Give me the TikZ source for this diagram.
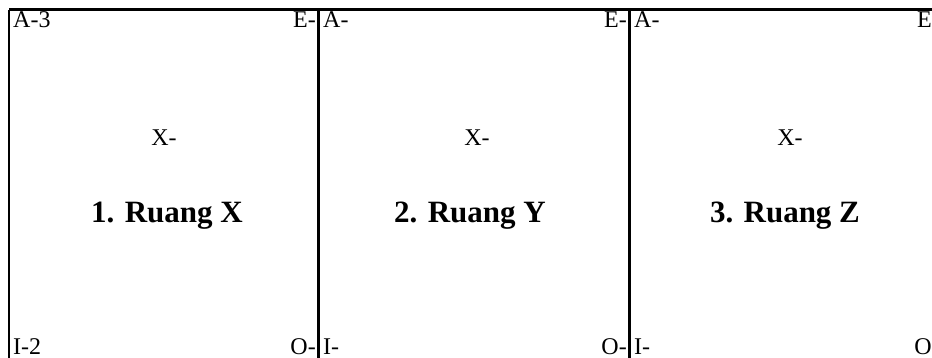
\documentclass[tikz,border=0pt]{standalone}
\usepackage{fontspec}
\setmainfont{Liberation Serif}
\begin{document}
\begin{tikzpicture}[x=1pt,y=-1pt,
  lbl/.style={font=\fontsize{24}{26}\selectfont, inner sep=0pt},
  ttl/.style={font=\fontsize{31}{34}\selectfont\bfseries, inner sep=0pt},
  thinline/.style={line width=2pt},
  thickline/.style={line width=3.5pt}]
\useasboundingbox (0,0) rectangle (932,358);
% frame lines
\coordinate (tl) at (9,10);
\coordinate (tr) at (960,10);
\coordinate (d1t) at (318.5,10);
\coordinate (d2t) at (629.5,10);
\coordinate (d3t) at (940,10);
\draw[line width=3pt] (tl) -- (tr);
\draw[thinline] (tl) -- (9,380);
\draw[thickline] (d1t) -- (318.5,380);
\draw[thickline] (d2t) -- (629.5,380);
\draw[thickline] (d3t) -- (940,380);
% panel 1
\node[lbl, anchor=base west] (a1) at (13,28) {A-3};
\node[lbl, anchor=base east] (e1) at (316,28) {E-};
\node[lbl, anchor=base west] (i1) at (13,354) {I-2};
\node[lbl, anchor=base east] (o1) at (316,354) {O-};
\node[lbl] (x1) at (164,138) {X-};
\node[ttl] (r1) at (167,216) {1. Ruang X};
% panel 2
\node[lbl, anchor=base west] (a2) at (323,28) {A-};
\node[lbl, anchor=base east] (e2) at (627,28) {E-};
\node[lbl, anchor=base west] (i2) at (323,354) {I-};
\node[lbl, anchor=base east] (o2) at (627,354) {O-};
\node[lbl] (x2) at (477,138) {X-};
\node[ttl] (r2) at (470,216) {2. Ruang Y};
% panel 3
\node[lbl, anchor=base west] (a3) at (634,28) {A-};
\node[lbl, anchor=base east] (e3) at (940,28) {E-};
\node[lbl, anchor=base west] (i3) at (634,354) {I-};
\node[lbl, anchor=base east] (o3) at (940,354) {O-};
\node[lbl] (x3) at (790,138) {X-};
\node[ttl] (r3) at (785,216) {3. Ruang Z};
\end{tikzpicture}
\end{document}
